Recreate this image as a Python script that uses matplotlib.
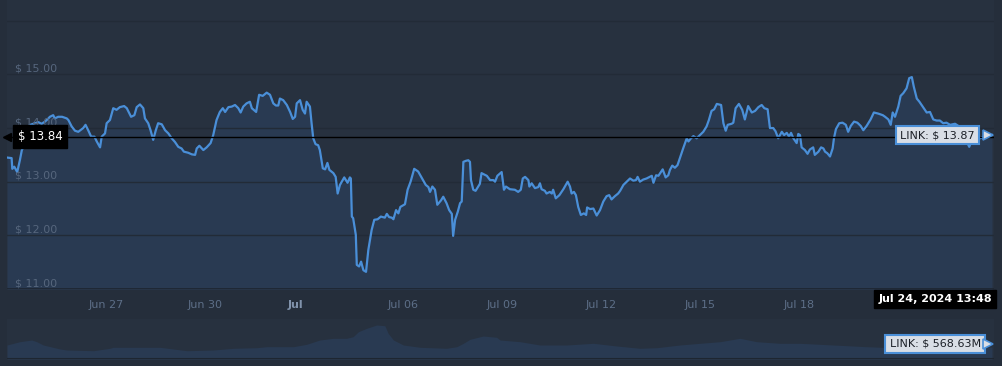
import matplotlib
matplotlib.use("Agg")
import matplotlib.pyplot as plt

# LINK price, days since Jun 24 00:00
days = [0.0, 0.14, 0.16, 0.22, 0.31, 0.39, 0.45, 0.52, 0.59, 0.70, 0.85, 0.95, 1.05, 1.15, 1.24, 1.30,
        1.40, 1.45, 1.55, 1.67, 1.81, 1.86, 1.96, 2.06, 2.16, 2.31, 2.38, 2.46, 2.55, 2.65, 2.72, 2.82,
        2.87, 2.97, 3.02, 3.12, 3.22, 3.32, 3.42, 3.55, 3.63, 3.76, 3.86, 3.93, 4.03, 4.13, 4.18, 4.28,
        4.35, 4.43, 4.51, 4.58, 4.69, 4.79, 4.89, 4.99, 5.09, 5.19, 5.29, 5.36, 5.49, 5.60, 5.70, 5.75,
        5.83, 5.95, 6.05, 6.17, 6.25, 6.35, 6.45, 6.54, 6.61, 6.71, 6.81, 6.91, 7.01, 7.08, 7.16, 7.26,
        7.36, 7.42, 7.55, 7.64, 7.75, 7.87, 7.97, 8.07, 8.15, 8.22, 8.27, 8.37, 8.48, 8.58, 8.66, 8.73,
        8.78, 8.88, 8.96, 9.03, 9.08, 9.18, 9.23, 9.28, 9.35, 9.43, 9.48, 9.57, 9.64, 9.71, 9.77, 9.89,
        9.96, 10.02, 10.09, 10.22, 10.32, 10.39, 10.42, 10.45, 10.49, 10.57, 10.60, 10.67, 10.73, 10.80,
        10.88, 10.95, 11.05, 11.13, 11.23, 11.33, 11.45, 11.51, 11.58, 11.66, 11.71, 11.79, 11.86, 11.92,
        12.06, 12.14, 12.23, 12.34, 12.46, 12.58, 12.69, 12.77, 12.82, 12.89, 12.97, 13.04, 13.15, 13.22,
        13.32, 13.40, 13.48, 13.52, 13.58, 13.66, 13.73, 13.78, 13.83, 13.91, 13.98, 14.03, 14.06, 14.13,
        14.20, 14.33, 14.38, 14.54, 14.64, 14.74, 14.79, 14.86, 14.99, 15.06, 15.12, 15.24, 15.39, 15.49,
        15.57, 15.63, 15.70, 15.80, 15.83, 15.90, 16.00, 16.10, 16.15, 16.20, 16.30, 16.35, 16.45, 16.51,
        16.55, 16.63, 16.74, 16.86, 16.99, 17.06, 17.11, 17.18, 17.24, 17.31, 17.39, 17.48, 17.55, 17.58,
        17.67, 17.77, 17.87, 17.97, 18.07, 18.17, 18.25, 18.32, 18.42, 18.52, 18.58, 18.68, 18.78, 18.88,
        18.98, 19.06, 19.11, 19.18, 19.28, 19.38, 19.48, 19.54, 19.59, 19.67, 19.74, 19.87, 19.96, 20.04,
        20.09, 20.16, 20.24, 20.32, 20.39, 20.49, 20.60, 20.65, 20.73, 20.80, 20.90, 21.00, 21.10, 21.20,
        21.27, 21.35, 21.43, 21.51, 21.64, 21.71, 21.78, 21.84, 21.96, 22.01, 22.08, 22.18, 22.28, 22.36,
        22.46, 22.57, 22.67, 22.77, 22.87, 22.95, 23.05, 23.12, 23.22, 23.29, 23.37, 23.48, 23.55, 23.63,
        23.70, 23.76, 23.83, 23.93, 23.98, 24.03, 24.08, 24.18, 24.26, 24.33, 24.43, 24.48, 24.59, 24.67,
        24.74, 24.79, 24.86, 24.94, 25.02, 25.06, 25.12, 25.22, 25.32, 25.42, 25.49, 25.57, 25.67, 25.77,
        25.87, 25.95, 26.05, 26.17, 26.27, 26.40, 26.54, 26.61, 26.71, 26.78, 26.84, 26.91, 27.01, 27.08,
        27.16, 27.26, 27.34, 27.42, 27.48, 27.57, 27.65, 27.77, 27.87, 27.97, 28.07, 28.17, 28.27, 28.37,
        28.47, 28.58, 28.73, 28.88, 28.97, 29.06, 29.16, 29.24, 29.38, 29.48, 29.64, 29.85]
prices = [13.45, 13.44, 13.24, 13.28, 13.18, 13.40, 13.59, 13.67, 14.00, 14.06, 14.09, 14.11, 14.08, 14.12, 14.17, 14.21,
          14.24, 14.18, 14.21, 14.21, 14.18, 14.15, 14.03, 13.95, 13.93, 14.00, 14.06, 13.96, 13.84, 13.84, 13.75, 13.64,
          13.84, 13.90, 14.09, 14.15, 14.37, 14.34, 14.39, 14.41, 14.37, 14.21, 14.24, 14.39, 14.44, 14.37, 14.18, 14.09,
          13.96, 13.78, 13.96, 14.09, 14.07, 13.96, 13.90, 13.81, 13.74, 13.65, 13.62, 13.56, 13.54, 13.51, 13.50, 13.62,
          13.67, 13.59, 13.64, 13.72, 13.87, 14.15, 14.30, 14.37, 14.30, 14.39, 14.40, 14.43, 14.37, 14.29, 14.40, 14.46,
          14.49, 14.37, 14.30, 14.62, 14.60, 14.66, 14.62, 14.46, 14.42, 14.42, 14.55, 14.52, 14.43, 14.30, 14.17, 14.21,
          14.46, 14.52, 14.34, 14.27, 14.49, 14.40, 14.09, 13.81, 13.70, 13.68, 13.59, 13.25, 13.23, 13.35, 13.22, 13.16,
          13.09, 12.78, 12.94, 13.08, 12.98, 13.08, 13.06, 12.35, 12.32, 12.01, 11.45, 11.42, 11.51, 11.35,
          11.32, 11.73, 12.10, 12.29, 12.30, 12.35, 12.33, 12.40, 12.34, 12.33, 12.30, 12.47, 12.41, 12.53,
          12.58, 12.85, 13.00, 13.24, 13.19, 13.06, 12.94, 12.90, 12.81, 12.91, 12.85, 12.57, 12.65, 12.72,
          12.60, 12.47, 12.40, 11.99, 12.29, 12.44, 12.60, 12.63, 13.37, 13.39, 13.40, 13.37, 13.03, 12.85,
          12.83, 12.96, 13.16, 13.11, 13.03, 13.03, 13.00, 13.11, 13.18, 12.85, 12.91, 12.86, 12.85, 12.81,
          12.85, 13.06, 13.09, 13.03, 12.91, 12.97, 12.88, 12.90, 12.97, 12.86, 12.83, 12.78, 12.81, 12.78,
          12.85, 12.69, 12.75, 12.86, 13.00, 12.91, 12.78, 12.81, 12.75, 12.53, 12.38, 12.41, 12.38, 12.52,
          12.49, 12.50, 12.37, 12.47, 12.63, 12.73, 12.75, 12.67, 12.73, 12.78, 12.83, 12.94, 13.00, 13.06,
          13.02, 13.03, 13.09, 13.00, 13.04, 13.06, 13.09, 13.11, 12.98, 13.12, 13.11, 13.23, 13.08, 13.12,
          13.22, 13.30, 13.26, 13.31, 13.44, 13.62, 13.81, 13.75, 13.81, 13.85, 13.81, 13.87, 13.93, 14.03,
          14.15, 14.32, 14.35, 14.45, 14.43, 14.09, 13.95, 14.06, 14.08, 14.10, 14.37, 14.45, 14.34, 14.16,
          14.41, 14.29, 14.32, 14.39, 14.43, 14.37, 14.35, 14.00, 14.00, 13.94, 13.81, 13.93, 13.87, 13.91,
          13.84, 13.91, 13.81, 13.72, 13.89, 13.87, 13.64, 13.59, 13.52, 13.60, 13.64, 13.50, 13.56, 13.64,
          13.62, 13.56, 13.53, 13.47, 13.62, 13.81, 13.98, 14.09, 14.10, 14.06, 13.93, 14.04, 14.12, 14.10,
          14.04, 13.96, 14.04, 14.16, 14.29, 14.27, 14.24, 14.21, 14.16, 14.06, 14.29, 14.21, 14.40, 14.60,
          14.65, 14.74, 14.93, 14.95, 14.77, 14.55, 14.49, 14.38, 14.29, 14.30, 14.16, 14.14, 14.14, 14.09,
          14.10, 14.06, 14.08, 14.02, 13.91, 13.78, 13.65, 13.78, 13.84, 13.81, 13.84, 13.87]

# navigator (volume, relative units)
nav_days = [0.0, 0.39, 0.75, 0.90, 1.10, 1.61, 1.81, 2.62, 3.12, 3.22, 4.64, 5.04, 5.45, 6.25, 6.86, 7.57,
            7.87, 8.68, 9.08, 9.48, 9.89, 10.29, 10.49, 10.65, 10.90, 11.20, 11.45, 11.55, 11.71, 12.01,
            12.52, 13.32, 13.63, 13.83, 14.03, 14.43, 14.84, 14.94, 15.55, 16.15, 16.96, 17.77, 18.48,
            19.18, 19.69, 20.39, 21.00, 21.61, 22.21, 22.72, 23.42, 24.03, 25.04, 26.05, 27.06, 28.27, 29.85]
nav_volume = [14, 17.3, 19, 17.3, 14, 10, 9, 8.3, 10.7, 11.7, 11.7, 10, 8.3, 9, 10.7, 11.3,
              12.3, 12.3, 14.7, 19, 20.7, 20.7, 22.3, 27.3, 30.7, 34, 33.3, 25.7, 19, 14,
              11.7, 10.7, 12.3, 15.7, 19.7, 23, 21.7, 19, 17.3, 14, 14, 15.7, 13,
              10.7, 11.3, 14, 15.7, 17.3, 20.7, 17.3, 15.7, 15.7, 14, 12.3, 11, 11, 12]

tick_days = [3, 6, 8.75, 12, 15, 18, 21, 24]
tick_labels = ["Jun 27", "Jun 30", "Jul", "Jul 06", "Jul 09", "Jul 12", "Jul 15", "Jul 18"]
price_ticks = [11, 12, 13, 14, 15]

cross_price = 13.84
last_label = "LINK: $ 13.87"
date_label = "Jul 24, 2024 13:48"
nav_label = "LINK: $ 568.63M"

bg = "#252e3b"
panel = "#27313f"
fill_c = "#293a52"
line_c = "#4a8fd8"
grid_c = "#222b37"
lab_c = "#56667d"

W, H = 1003, 366
fig = plt.figure(figsize=(W / 100, H / 100), dpi=100, facecolor=bg)

ax = fig.add_axes([7 / W, 77 / H, 987 / W, 289 / H], facecolor=panel)
ax.set_xlim(0, 29.91)
ax.set_ylim(11.0, 16.387)
ax.fill_between(days, prices, 11.0, color=fill_c, lw=0, zorder=1)
ax.plot(days, prices, color=line_c, lw=1.6, zorder=3)
ax.set_yticks([11, 12, 13, 14, 15, 16])
ax.yaxis.grid(True, color=grid_c, lw=1)
for gl in ax.get_ygridlines():
    gl.set_zorder(2)
ax.tick_params(axis="y", left=False, labelleft=False)
for s in ax.spines.values():
    s.set_visible(False)
ax.axhline(11.0, color="#1e2631", lw=1.2, zorder=4)

for v in price_ticks:
    ax.annotate(f"$ {v:.2f}", (0.0081, v), xycoords=("axes fraction", "data"),
                xytext=(0, 1), textcoords="offset pixels", va="bottom", ha="left",
                fontsize=8, color=lab_c, zorder=5)

ax.set_xticks(tick_days)
ax.set_xticklabels(tick_labels)
ax.tick_params(axis="x", length=0, pad=8, labelsize=8, labelcolor="#5d6f88")
tl = ax.get_xticklabels()[2]
tl.set_fontweight("bold")
tl.set_color("#8092ab")

# crosshair and labels
ax.axhline(cross_price, color="black", lw=1, zorder=6)
ax.annotate(f"$ {cross_price:.2f}", (0.004, cross_price), xycoords=("axes fraction", "data"),
            xytext=(7, 0), textcoords="offset pixels", va="center", ha="left",
            fontsize=8.5, color="white", zorder=8,
            bbox=dict(boxstyle="square,pad=0.4", fc="black", ec="black"))
ax.plot([0.0], [cross_price], marker="<", ms=6, color="black", transform=ax.get_yaxis_transform(),
        clip_on=False, zorder=8)

ax.annotate(last_label, (0.9865, prices[-1]), xycoords=("axes fraction", "data"),
            xytext=(-6, 0), textcoords="offset pixels", va="center", ha="right",
            fontsize=8, color="#1b1f27", zorder=8,
            bbox=dict(boxstyle="square,pad=0.4", fc="#d9dee6", ec="#4a8fd8", lw=1.5))
ax.plot([0.9935], [prices[-1]], marker=">", ms=7, mfc="#d9dee6", mec="#4a8fd8", mew=1.2,
        transform=ax.get_yaxis_transform(), clip_on=False, zorder=9)

ax.text(0.998, -0.0346, date_label, transform=ax.transAxes, ha="right", va="center",
        fontsize=8, fontweight="bold", color="white", zorder=10,
        bbox=dict(boxstyle="square,pad=0.4", fc="black", ec="black"))

# navigator
nav = fig.add_axes([7 / W, 7 / H, 987 / W, 40 / H], facecolor=panel)
nav.set_xlim(0, 29.91)
nav.set_ylim(0, 40)
nav.fill_between(nav_days, nav_volume, 0, color=fill_c, lw=0)
nav.set_xticks([])
nav.set_yticks([])
for s in nav.spines.values():
    s.set_visible(False)
nav.axhline(0, color="#1e2631", lw=1.5)
nav.text(0.9865, 0.375, nav_label, transform=nav.transAxes, ha="right", va="center",
         fontsize=8, color="#1b1f27", zorder=8,
         bbox=dict(boxstyle="square,pad=0.4", fc="#d9dee6", ec="#4a8fd8", lw=1.5))
nav.plot([0.9935], [0.375], marker=">", ms=7, mfc="#d9dee6", mec="#4a8fd8", mew=1.2,
         transform=nav.transAxes, clip_on=False, zorder=9)

fig.savefig("out.png", dpi=100, facecolor=bg)
